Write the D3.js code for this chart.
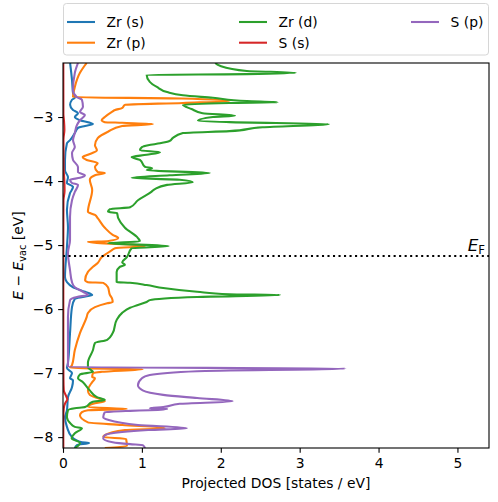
<!DOCTYPE html>
<html><head><meta charset="utf-8">
<script src="https://cdn.jsdelivr.net/npm/d3@7"></script>
<style>
body{margin:0;background:#fff}
svg{display:block}
text{font-family:"DejaVu Sans",sans-serif}
</style>
</head><body><svg id="chart" width="498" height="502"></svg>
<script>
// ---- data (energy [eV], projected DOS [states/eV]) ----
const seriesNames = ["Zr (s)", "Zr (p)", "Zr (d)", "S (s)", "S (p)"];
const seriesColors = ["#1f77b4", "#ff7f0e", "#2ca02c", "#d62728", "#9467bd"];
const xTicks = [0, 1, 2, 3, 4, 5];
const yTicks = [-8, -7, -6, -5, -4, -3];
const fermiLevel = -5.17;
const xDomain = [0, 5.4];
const yDomain = [-8.17, -2.156];

const zrS = [[-2.156,0.09],[-2.42,0.114],[-2.625,0.127],[-2.70,0.15],[-2.73,0.114],[-2.81,0.09],[-2.89,0.127],[-2.94,0.19],[-3.00,0.15],[-3.05,0.215],[-3.11,0.38],[-3.14,0.28],[-3.17,0.19],[-3.25,0.15],[-3.36,0.09],[-3.41,0.05],[-3.67,0.025],[-3.83,0.025],[-3.94,0.063],[-4.03,0.05],[-4.09,0.127],[-4.19,0.089],[-4.45,0.05],[-4.72,0.063],[-5.03,0.05],[-5.50,0.025],[-5.58,0.05],[-5.66,0.127],[-5.73,0.28],[-5.78,0.37],[-5.81,0.25],[-5.84,0.15],[-5.97,0.114],[-6.375,0.089],[-6.84,0.063],[-6.92,0.05],[-7.00,0.114],[-7.08,0.089],[-7.11,0.127],[-7.22,0.114],[-7.375,0.063],[-7.58,0.05],[-7.69,0.025],[-7.84,0.05],[-8.00,0.114],[-8.08,0.24],[-8.09,0.33],[-8.125,0.177],[-8.17,0.15]];

const zrP = [[-2.156,0.30],[-2.31,0.215],[-2.53,0.15],[-2.69,0.127],[-2.71,1.5],[-2.75,2.11],[-2.78,1.52],[-2.81,0.785],[-2.86,0.747],[-2.89,0.66],[-2.92,0.62],[-3.00,0.53],[-3.05,0.49],[-3.08,0.53],[-3.09,0.75],[-3.11,1.14],[-3.14,0.75],[-3.23,0.57],[-3.33,0.44],[-3.44,0.405],[-3.52,0.43],[-3.59,0.316],[-3.625,0.25],[-3.67,0.30],[-3.72,0.44],[-3.78,0.405],[-3.86,0.44],[-3.875,0.53],[-3.91,0.405],[-3.98,0.34],[-4.14,0.37],[-4.48,0.316],[-4.53,0.405],[-4.58,0.44],[-4.73,0.53],[-4.84,0.63],[-4.89,0.70],[-4.94,0.56],[-4.95,0.316],[-5.016,1.04],[-5.05,0.66],[-5.08,0.62],[-5.19,0.49],[-5.28,0.44],[-5.34,0.38],[-5.42,0.316],[-5.55,0.28],[-5.58,0.316],[-5.59,0.51],[-5.66,0.57],[-5.78,0.595],[-5.83,0.62],[-5.89,0.63],[-5.91,0.56],[-5.97,0.405],[-6.06,0.316],[-6.125,0.30],[-6.375,0.215],[-6.64,0.15],[-6.875,0.114],[-6.92,0.09],[-6.94,1.01],[-6.98,0.49],[-7.00,0.38],[-7.06,0.37],[-7.08,0.405],[-7.14,0.37],[-7.27,0.316],[-7.34,0.34],[-7.39,0.44],[-7.44,0.53],[-7.47,0.405],[-7.53,0.316],[-7.56,0.81],[-7.58,0.316],[-7.61,0.24],[-7.66,0.215],[-7.77,0.316],[-7.81,0.75],[-7.86,1.29],[-7.89,0.785],[-7.97,0.53],[-8.00,0.51],[-8.03,0.80],[-8.14,0.81],[-8.17,0.53]];

const zrD = [[-2.156,1.93],[-2.20,1.99],[-2.28,2.33],[-2.31,2.95],[-2.33,2.33],[-2.34,1.06],[-2.45,1.10],[-2.53,1.19],[-2.61,1.32],[-2.66,1.52],[-2.70,1.90],[-2.75,2.33],[-2.77,2.72],[-2.78,2.11],[-2.81,1.52],[-2.875,1.63],[-2.94,1.77],[-2.98,2.18],[-3.00,1.90],[-3.06,1.71],[-3.08,2.11],[-3.11,3.37],[-3.16,2.53],[-3.22,2.11],[-3.25,1.52],[-3.33,1.39],[-3.375,1.35],[-3.41,1.23],[-3.44,1.08],[-3.47,1.00],[-3.52,0.975],[-3.55,1.23],[-3.59,1.06],[-3.625,0.87],[-3.67,0.975],[-3.78,1.04],[-3.80,1.13],[-3.83,1.06],[-3.875,1.86],[-3.91,1.35],[-3.95,0.87],[-3.98,1.48],[-4.02,1.645],[-4.06,1.32],[-4.125,1.165],[-4.17,1.12],[-4.30,0.95],[-4.41,0.85],[-4.44,0.595],[-4.48,0.57],[-4.50,0.684],[-4.58,0.70],[-4.73,0.785],[-4.89,0.95],[-4.94,0.975],[-4.97,0.57],[-5.016,1.34],[-5.05,0.87],[-5.19,0.81],[-5.27,0.75],[-5.31,0.785],[-5.34,0.72],[-5.42,0.68],[-5.58,0.68],[-5.59,0.85],[-5.625,1.06],[-5.67,1.27],[-5.73,1.70],[-5.77,2.11],[-5.78,2.75],[-5.81,1.70],[-5.86,1.10],[-5.89,1.06],[-5.94,0.94],[-5.98,0.85],[-6.06,0.75],[-6.17,0.68],[-6.375,0.63],[-6.48,0.56],[-6.53,0.405],[-6.64,0.38],[-6.84,0.316],[-6.91,0.316],[-6.98,0.38],[-7.02,0.215],[-7.08,0.19],[-7.14,0.25],[-7.27,0.34],[-7.375,0.43],[-7.42,0.53],[-7.45,0.37],[-7.53,0.28],[-7.55,0.15],[-7.58,0.063],[-7.69,0.05],[-7.78,0.09],[-7.84,0.15],[-7.86,0.24],[-7.94,0.15],[-8.02,0.11],[-8.09,0.215],[-8.17,0.15]];

const sS = [[-2.156,0.004],[-2.95,0.005],[-3.05,0.012],[-3.2,0.018],[-3.35,0.006],[-3.8,0.008],[-3.95,0.015],[-4.15,0.02],[-4.3,0.006],[-5.0,0.004],[-6.5,0.004],[-7.1,0.006],[-7.27,0.01],[-7.36,0.04],[-7.41,0.055],[-7.47,0.028],[-7.55,0.01],[-7.7,0.004],[-8.17,0.004]];

const sP = [[-2.156,0.19],[-2.31,0.15],[-2.58,0.127],[-2.69,0.177],[-2.73,0.24],[-2.84,0.253],[-2.92,0.215],[-2.97,0.278],[-3.05,0.215],[-3.125,0.177],[-3.25,0.15],[-3.36,0.127],[-3.47,0.15],[-3.56,0.114],[-3.67,0.127],[-3.78,0.19],[-3.86,0.19],[-3.91,0.278],[-3.95,0.215],[-3.98,0.089],[-4.03,0.114],[-4.06,0.19],[-4.17,0.15],[-4.30,0.114],[-4.56,0.089],[-4.92,0.089],[-5.125,0.063],[-5.39,0.089],[-5.58,0.114],[-5.66,0.15],[-5.73,0.253],[-5.78,0.316],[-5.81,0.177],[-5.86,0.089],[-6.125,0.063],[-6.64,0.063],[-6.906,0.063],[-6.93,3.58],[-6.97,1.70],[-7.03,1.10],[-7.08,1.00],[-7.19,0.95],[-7.27,1.01],[-7.34,1.27],[-7.39,1.70],[-7.44,2.15],[-7.48,1.48],[-7.53,1.27],[-7.55,1.10],[-7.56,1.32],[-7.58,1.10],[-7.59,0.85],[-7.61,0.53],[-7.69,0.51],[-7.73,0.57],[-7.81,0.95],[-7.86,1.57],[-7.89,1.08],[-7.92,0.75],[-7.97,0.53],[-8.02,0.51],[-8.08,0.63],[-8.11,0.85],[-8.125,1.01],[-8.17,1.04]];

const seriesData = [zrS, zrP, zrD, sS, sP];

// ---- layout ----
const svg = d3.select("#chart");
const L = 63, R = 489, T = 63, B = 448;
const FS = 13.89;
const LW = 2.08;
const x = d3.scaleLinear().domain(xDomain).range([L, R]);
const y = d3.scaleLinear().domain(yDomain).range([B, T]);

svg.append("defs").append("clipPath").attr("id", "clip")
  .append("rect").attr("x", L).attr("y", T).attr("width", R - L).attr("height", B - T);

const plot = svg.append("g").attr("clip-path", "url(#clip)");
const line = d3.line().x(d => x(d[1])).y(d => y(d[0])).curve(d3.curveMonotoneY);
seriesData.forEach((s, i) => {
  plot.append("path").datum(s).attr("d", line)
    .attr("fill", "none").attr("stroke", seriesColors[i])
    .attr("stroke-width", LW).attr("stroke-linejoin", "round");
});

// Fermi level
plot.append("line").attr("x1", L).attr("x2", R)
  .attr("y1", y(fermiLevel)).attr("y2", y(fermiLevel))
  .attr("stroke", "#000").attr("stroke-width", LW).attr("stroke-dasharray", "2.08,3.43");

const ef = svg.append("text").attr("x", 485).attr("y", y(fermiLevel) - 4.5)
  .attr("text-anchor", "end").attr("fill", "#000");
ef.append("tspan").attr("font-style", "italic").attr("font-size", 16.7).text("E");
ef.append("tspan").attr("font-size", 11.7).attr("dy", 2.5).text("F");

// axes
const xAxis = svg.append("g").attr("transform", `translate(0,${B})`)
  .call(d3.axisBottom(x).tickValues(xTicks).tickSize(4.86).tickPadding(4.86).tickFormat(d3.format("d")));
const yAxis = svg.append("g").attr("transform", `translate(${L},0)`)
  .call(d3.axisLeft(y).tickValues(yTicks).tickSize(4.86).tickPadding(4.86).tickFormat(d3.format("d")));
[xAxis, yAxis].forEach(g => {
  g.select(".domain").remove();
  g.selectAll(".tick line").attr("stroke", "#000").attr("stroke-width", 1.1);
  g.selectAll(".tick text").attr("font-size", FS).attr("fill", "#000")
    .attr("font-family", "DejaVu Sans");
});

svg.append("rect").attr("x", L).attr("y", T).attr("width", R - L).attr("height", B - T)
  .attr("fill", "none").attr("stroke", "#000").attr("stroke-width", 1.1);

// axis labels
svg.append("text").attr("x", (L + R) / 2).attr("y", 488).attr("text-anchor", "middle")
  .attr("font-size", FS).attr("fill", "#000").text("Projected DOS [states / eV]");

const yl = svg.append("text").attr("transform", `translate(23,${(T + B) / 2}) rotate(-90)`)
  .attr("text-anchor", "middle").attr("font-size", FS).attr("fill", "#000");
yl.append("tspan").attr("font-style", "italic").text("E");
yl.append("tspan").text(" \u2212 ");
yl.append("tspan").attr("font-style", "italic").text("E");
yl.append("tspan").attr("font-size", 9.7).attr("dy", 2.5).text("vac");
yl.append("tspan").attr("dy", -2.5).text(" [eV]");

// legend
const lg = svg.append("g");
lg.append("rect").attr("x", 63.5).attr("y", 3.5).attr("width", 425).attr("height", 51.5)
  .attr("rx", 3).attr("fill", "#fff").attr("stroke", "#d6d6d6").attr("stroke-width", 1);
const colX = [67, 239, 411];
const rowY = [22, 42.7];
seriesNames.forEach((name, i) => {
  const c = Math.floor(i / 2), r = i % 2;
  const g = lg.append("g");
  g.append("line").attr("x1", colX[c]).attr("x2", colX[c] + 28)
    .attr("y1", rowY[r]).attr("y2", rowY[r])
    .attr("stroke", seriesColors[i]).attr("stroke-width", LW);
  g.append("text").attr("x", colX[c] + 39.5).attr("y", rowY[r] + 5.2)
    .attr("font-size", FS).attr("fill", "#000").text(name);
});
</script>
</body></html>
